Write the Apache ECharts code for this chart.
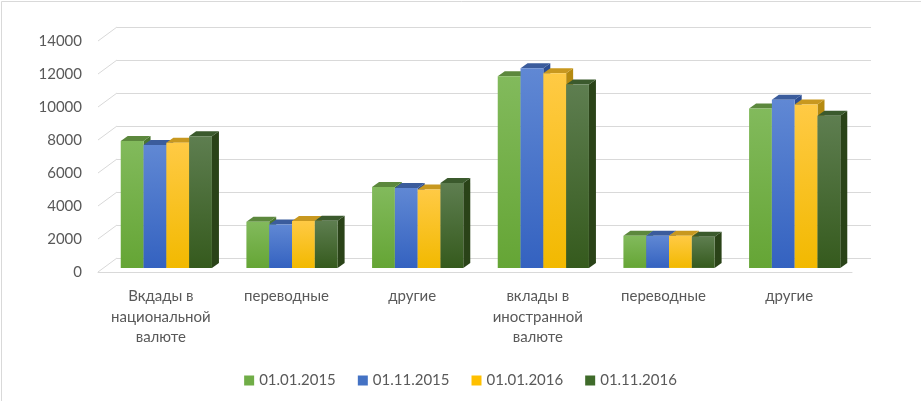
<!DOCTYPE html>
<html>
<head>
<meta charset="utf-8">
<script src="https://cdn.jsdelivr.net/npm/echarts@6/dist/echarts.min.js"></script>
<style>
html,body{margin:0;padding:0;background:#fff;}
#chart1{width:921px;height:401px;}
</style>
</head>
<body>
<div id="chart1"></div>
<script>
// данные
var categories=["Вкдады в\nнациональной\nвалюте","переводные","другие","вклады в\nиностранной\nвалюте","переводные","другие"];
var seriesNames=["01.01.2015","01.11.2015","01.01.2016","01.11.2016"];
var d20150101=[7700,2800,4900,11620,1950,9670];
var d20151101=[7450,2640,4850,12100,1950,10190];
var d20160101=[7590,2840,4750,11800,1950,9910];
var d20161101=[7980,2860,5150,11120,1890,9220];
var yTicks=[0,2000,4000,6000,8000,10000,12000,14000];

// цвета: [легенда, перед верх, перед низ, крышка, бок]
var colors=[
    ["#70ad47","#82ba5c","#65a535","#5c883d","#4b7630"],
    ["#4472c4","#6088d4","#3462c0","#3b5c9c","#2c4e92"],
    ["#ffc000","#ffca45","#f2b900","#c8981f","#b58a10"],
    ["#3f6b2a","#5e7e50","#355a1d","#3b5a2d","#2a4318"]
];

// геометрия "3D"
var FRONT_L=98,FRONT_R=852,FRONT_B=272,K=0.0165;
var DEPTH_X=19,DEPTH_Y=14;      // глубина всей сцены
var BAR_OFF=0.29;               // положение передней грани столбиков
var BAR_DX=7,BAR_DY=5;          // глубина столбика
var BAR_W=22.8;

var H=401,W=921;
var frontTop=FRONT_B-14000*K;
function gridAt(f){
    var ox=DEPTH_X*f,oy=DEPTH_Y*f;
    return {left:FRONT_L+ox,right:W-FRONT_R-ox,top:frontTop-oy,bottom:H-FRONT_B+oy,containLabel:false};
}

var allData=[d20150101,d20151101,d20160101,d20161101];

function barRender(si){
    return function(params,api){
        var c=colors[si];
        var idx=api.value(0),val=api.value(1);
        var top=api.coord([idx,val]);
        var base=api.coord([idx,0]);
        var x0=top[0]+(si-2)*BAR_W,x1=x0+BAR_W;
        var yT=top[1],yB=base[1];
        return {type:"group",children:[
            {type:"polygon",shape:{points:[[x1,yT],[x1+BAR_DX,yT-BAR_DY],[x1+BAR_DX,yB-BAR_DY],[x1,yB]]},
                style:{fill:c[4]}},
            {type:"polygon",shape:{points:[[x0,yT],[x1,yT],[x1+BAR_DX,yT-BAR_DY],[x0+BAR_DX,yT-BAR_DY]]},
                style:{fill:c[3]}},
            {type:"rect",shape:{x:x0,y:yT,width:BAR_W,height:yB-yT},
                style:{fill:new echarts.graphic.LinearGradient(0,0,0,1,[{offset:0,color:c[1]},{offset:1,color:c[2]}])}}
        ]};
    };
}

var series=[];
// диагонали на боковой стенке
series.push({
    type:"custom",xAxisIndex:2,yAxisIndex:2,silent:true,z:1,
    data:yTicks.map(function(v){return [0,v];}),
    renderItem:function(params,api){
        var p=api.coord([0,api.value(1)]);
        var x=params.coordSys.x;
        return {type:"line",shape:{x1:x,y1:p[1],x2:x+DEPTH_X,y2:p[1]-DEPTH_Y},
            style:{stroke:"#d9d9d9",lineWidth:1}};
    }
});
for(var i=0;i<4;i++){
    series.push({
        name:seriesNames[i],type:"custom",xAxisIndex:0,yAxisIndex:0,z:5,
        itemStyle:{color:colors[i][0]},
        data:allData[i].map(function(v,j){return [j,v];}),
        renderItem:barRender(i)
    });
}

var chart=echarts.init(document.getElementById("chart1"));
var option={
    backgroundColor:"#fff",
    animation:false,
    textStyle:{fontFamily:"Lato, 'Open Sans', sans-serif"},
    graphic:[
        {type:"polyline",silent:true,shape:{points:[[1.5,H],[1.5,1.5],[W,1.5]]},
            style:{stroke:"#d9d9d9",lineWidth:1,fill:null}}
    ],
    legend:{
        data:seriesNames,top:368,left:"center",
        icon:"rect",itemWidth:10,itemHeight:10,itemGap:22,
        textStyle:{color:"#595959",fontSize:15,fontFamily:"Lato, 'Open Sans', sans-serif"}
    },
    grid:[gridAt(BAR_OFF),gridAt(1),gridAt(0)],
    xAxis:[
        {gridIndex:0,type:"category",data:categories,show:false},
        {gridIndex:1,type:"category",data:categories,show:false},
        {gridIndex:2,type:"category",data:categories,
            axisLine:{lineStyle:{color:"#d9d9d9"}},axisTick:{show:false},
            axisLabel:{color:"#595959",fontSize:15,lineHeight:20.5,margin:14,interval:0,
                fontFamily:"Lato, 'Open Sans', sans-serif"}}
    ],
    yAxis:[
        {gridIndex:0,type:"value",min:0,max:14000,interval:2000,show:false},
        {gridIndex:1,type:"value",min:0,max:14000,interval:2000,
            axisLine:{show:false},axisTick:{show:false},axisLabel:{show:false},
            splitLine:{lineStyle:{color:"#d9d9d9"}}},
        {gridIndex:2,type:"value",min:0,max:14000,interval:2000,
            axisLine:{show:false},axisTick:{show:false},splitLine:{show:false},
            axisLabel:{color:"#595959",fontSize:15,margin:16,formatter:function(v){return String(v);},
                fontFamily:"Lato, 'Open Sans', sans-serif"}}
    ],
    series:series
};
chart.setOption(option);
</script>
</body>
</html>
